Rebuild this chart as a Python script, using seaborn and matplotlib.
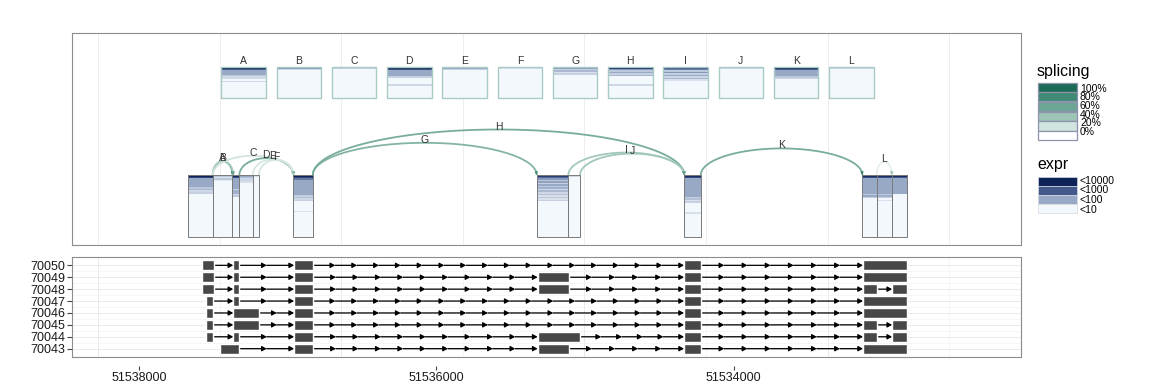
import numpy as np
import matplotlib
matplotlib.use('Agg')
import matplotlib.pyplot as plt
from matplotlib.colors import LinearSegmentedColormap
from matplotlib.patches import Rectangle
import seaborn as sns

sns.set_theme(style='white')
plt.rcParams['font.family'] = ['Liberation Sans', 'DejaVu Sans']

# --- data -----------------------------------------------------------------
# exonic parts of the gene (minus strand: start > end)
part_start = [51537668, 51537504, 51537372, 51537325, 51537235, 51536962,
              51535325, 51535112, 51534332, 51533134, 51533037, 51532936]
part_end = [51537504, 51537372, 51537325, 51537235, 51537193, 51536831,
            51535112, 51535033, 51534221, 51533037, 51532936, 51532835]
# per sample expression level (0 = <10 ... 3 = <10000), run length (n, level), top -> bottom
part_bands = [
    [(1, 3.0), (1, 2.4), (6, 1.0), (1, 0.6), (1, 0.8), (1, 0.4), (1, 0.5), (28, 0)],
    [(1, 0.6), (1, 0.3), (1, 0.6), (1, 0.2), (36, 0)],
    [(1, 2.8), (1, 2.2), (7, 1.0), (1, 0.5), (2, 0.9), (1, 0.4), (1, 0.6), (26, 0)],
    [(1, 1.0), (1, 0.7), (1, 0.4), (1, 0.5), (1, 0.3), (35, 0)],
    [(1, 0.3), (39, 0)],
    [(1, 3.0), (1, 2.3), (1, 1.6), (10, 1.0), (1, 0.5), (1, 0.7), (1, 0.4), (1, 0.5),
     (6, 0), (1, 0.3), (16, 0)],
    [(1, 2.5), (1, 1.8), (1, 1.2), (1, 0.6), (1, 1.1), (1, 0.5), (1, 1.0), (1, 0.6),
     (1, 0.9), (1, 0.4), (1, 0.8), (1, 0.4), (1, 0.7), (1, 0.3), (1, 0.6), (1, 0.3),
     (1, 0.5), (23, 0)],
    [(1, 0.4), (39, 0)],
    [(1, 2.8), (1, 2.2), (12, 1.0), (1, 0.5), (1, 0.7), (1, 0.3), (1, 0.5), (6, 0),
     (1, 0.3), (15, 0)],
    [(1, 2.8), (1, 2.2), (10, 1.0), (1, 0.6), (1, 1.0), (1, 0.5), (25, 0)],
    [(1, 2.8), (1, 2.2), (10, 1.0), (1, 0.6), (1, 0.9), (1, 0.5), (1, 0), (1, 0.3), (23, 0)],
    [(1, 2.8), (1, 2.0), (10, 1.0), (28, 0)],
]

# junctions
junc_names = ['A', 'B', 'C', 'D', 'E', 'F', 'G', 'H', 'I', 'J', 'K', 'L']
junc_from = [51537504, 51537504, 51537504, 51537325, 51537235, 51537193,
             51536831, 51536831, 51535112, 51535033, 51534221, 51533037]
junc_to = [51537372, 51537366, 51536962, 51536962, 51536962, 51536962,
           51535325, 51534332, 51534332, 51534332, 51533134, 51532936]
junc_psi = [0.5, 0.35, 0.2, 0.55, 0.18, 0.18, 0.5, 0.55, 0.38, 0.38, 0.55, 0.12]
junc_bands = [
    [(1, 3.0), (1, 2.0), (3, 1.0), (1, 0.6), (2, 0.4), (1, 0), (1, 0.4), (10, 0)],
    [(1, 1.2), (1, 0.4), (18, 0)],
    [(1, 0.5), (19, 0)],
    [(1, 3.0), (1, 2.2), (4, 1.0), (1, 0.5), (4, 0), (1, 0.4), (8, 0)],
    [(1, 1.0), (1, 0.5), (18, 0)],
    [(1, 0.3), (19, 0)],
    [(1, 1.2), (1, 0.5), (1, 0.8), (1, 0.3), (1, 0.5), (15, 0)],
    [(1, 3.0), (1, 1.2), (1, 0.6), (1, 1.0), (1, 0.5), (1, 0.8), (5, 0), (1, 0.4), (8, 0)],
    [(1, 2.2), (1, 1.5), (1, 0.6), (1, 1.2), (1, 0.5), (1, 1.0), (1, 0.4), (1, 0.8),
     (1, 0.3), (11, 0)],
    [(1, 0.4), (19, 0)],
    [(1, 3.0), (1, 2.0), (4, 1.0), (1, 0.6), (1, 0.4), (12, 0)],
    [(1, 0.4), (19, 0)],
]

# transcripts
tx_ids = ['70050', '70049', '70048', '70047', '70046', '70045', '70044', '70043']
tx_starts = [
    [51537578, 51537366, 51536957, 51534334, 51533130],
    [51537578, 51537366, 51536957, 51535319, 51534334, 51533130],
    [51537578, 51537366, 51536957, 51535319, 51534334, 51533130, 51532934],
    [51537549, 51537366, 51536957, 51534334, 51533130],
    [51537549, 51537366, 51536957, 51534334, 51533130],
    [51537549, 51537366, 51536957, 51534334, 51533130, 51532934],
    [51537549, 51537366, 51536957, 51535319, 51534334, 51533130, 51532934],
    [51537455, 51536957, 51535319, 51534334, 51533130],
]
tx_ends = [
    [51537493, 51537325, 51536827, 51534219, 51532833],
    [51537493, 51537325, 51536827, 51535110, 51534219, 51532833],
    [51537493, 51537325, 51536827, 51535110, 51534219, 51533034, 51532833],
    [51537504, 51537325, 51536827, 51534219, 51532833],
    [51537504, 51537191, 51536827, 51534219, 51532833],
    [51537504, 51537191, 51536827, 51534219, 51533034, 51532833],
    [51537504, 51537325, 51536827, 51535031, 51534219, 51533034, 51532833],
    [51537325, 51536827, 51535110, 51534219, 51532833],
]

x_ticks = [51538000, 51536000, 51534000]
grid_pos = [51538276, 51537458, 51536640, 51535822, 51535004, 51534186, 51533368, 51532550]

splice_labels = ['100%', '80%', '60%', '40%', '20%', '0%']
splice_colors = ['#1b6b56', '#3f8a74', '#6ba593', '#9dc4b7', '#d2e4de', '#ffffff']
expr_labels = ['<10000', '<1000', '<100', '<10']
expr_colors = ['#0e2358', '#44598b', '#98a9c6', '#f3f8fd']

# --- plot -----------------------------------------------------------------
expr_cmap = LinearSegmentedColormap.from_list('expr', expr_colors[::-1])
splice_cmap = LinearSegmentedColormap.from_list('splice', splice_colors[::-1])
xlim = (51538451, 51532067)

fig = plt.figure(figsize=(11.52, 3.84), dpi=100)
ax1 = fig.add_axes([72 / 1152, 1 - 245 / 384, 949 / 1152, 212 / 384])
ax2 = fig.add_axes([72 / 1152, 1 - 357 / 384, 949 / 1152, 100 / 384])


def stripe_box(ax, x0, x1, y0, y1, bands, edge, lw):
    levels = np.concatenate([np.full(n, v, dtype=float) for n, v in bands])
    img = expr_cmap(levels / 3.0)[:, None, :3]
    ax.imshow(img, extent=(x0, x1, y0, y1), origin='upper', aspect='auto',
              interpolation='nearest', zorder=2)
    ax.add_patch(Rectangle((min(x0, x1), y0), abs(x1 - x0), y1 - y0, fill=False,
                           ec=edge, lw=lw, zorder=3))


# exon parts
ex_lo, ex_hi = 8, 70
for s, e, b in zip(part_start, part_end, part_bands):
    stripe_box(ax1, s, e, ex_lo, ex_hi, b, '#7a7a7a', 0.7)

# junction boxes on top
jc = np.linspace(51537297, 51533208, len(junc_names))
jw = 299
for c, name, b in zip(jc, junc_names, junc_bands):
    stripe_box(ax1, c + jw / 2, c - jw / 2, 147, 178, b, '#a8cbc6', 1.0)
    ax1.text(c, 183.5, name, ha='center', va='center', fontsize=7.5, color='#333333')

# junction arcs
t = np.linspace(0, np.pi, 80)
for name, a, b, psi in zip(junc_names, junc_from, junc_to, junc_psi):
    mid, half = (a + b) / 2, (a - b) / 2
    h = 12 + 0.0134 * (a - b)
    x = mid + half * np.cos(t)
    y = ex_hi + h * np.sin(t)
    col = splice_cmap(psi)
    ax1.plot(x, y, color=col, lw=1.3, zorder=4, solid_capstyle='butt')
    ax1.annotate('', xy=(x[-1], y[-1]), xytext=(x[-3], y[-3]),
                 arrowprops=dict(arrowstyle='-|>,head_length=0.45,head_width=0.22',
                                 mutation_scale=4, color=splice_cmap(min(psi + 0.3, 1)),
                                 lw=0.5, shrinkA=0, shrinkB=0), zorder=4)
    ax1.text(mid, ex_hi + h + 3, name, ha='center', va='center', fontsize=7.5,
             color='#333333', zorder=5)

ax1.set_xlim(xlim)
ax1.set_ylim(0, 212)
ax1.set_xticks(grid_pos)
ax1.set_yticks([])
ax1.grid(axis='x', color='#ebebeb', lw=0.6)
ax1.tick_params(length=0, labelbottom=False, labelleft=False)

# transcripts
row_y = np.arange(len(tx_ids), 0, -1)
arrow_style = dict(arrowstyle='-|>,head_length=0.55,head_width=0.3', mutation_scale=5,
                   color='black', lw=0.9, shrinkA=0, shrinkB=0)
for y, starts, ends in zip(row_y, tx_starts, tx_ends):
    ax2.broken_barh([(e, s - e) for s, e in zip(starts, ends)], (y - 0.41, 0.82),
                    facecolors='#474747', zorder=4)
    for k in range(len(starts) - 1):
        a, b = ends[k], starts[k + 1]
        n = max(1, int(round((a - b) / 150)))
        pts = np.linspace(a, b, n + 1)
        for p, q in zip(pts[:-1], pts[1:]):
            ax2.annotate('', xy=(q, y), xytext=(p, y), arrowprops=arrow_style, zorder=3)

ax2.set_xlim(xlim)
ax2.set_ylim(0.3, len(tx_ids) + 0.7)
ax2.set_yticks(row_y, labels=tx_ids)
ax2.set_yticks(row_y[:-1] - 0.5, minor=True)
ax2.set_xticks(grid_pos[::2])
ax2.set_xticks(grid_pos[1::2], minor=True)
ax2.grid(which='major', color='#e6e6e6', lw=0.6)
ax2.grid(which='minor', color='#f3f3f3', lw=0.5)
ax2.tick_params(axis='x', which='both', length=0, labelbottom=False)
ax2.tick_params(axis='y', which='major', length=3.5, width=0.8, color='#444444',
                pad=1.5, labelsize=9, labelcolor='#1a1a1a', left=True)
ax2.tick_params(axis='y', which='minor', length=0)

sec = ax2.secondary_xaxis(-0.09)
sec.set_xticks(x_ticks, labels=[str(v) for v in x_ticks])
for sp in sec.spines.values():
    sp.set_visible(False)
sec.tick_params(length=3, width=0.8, color='#444444', pad=1.5, labelsize=9,
                labelcolor='#1a1a1a')

for ax in (ax1, ax2):
    for sp in ax.spines.values():
        sp.set_visible(True)
        sp.set_color('#8c8c8c')
        sp.set_linewidth(0.8)

# legends, drawn in pixel space at the right
lg = fig.add_axes([0, 0, 1, 1])
lg.set_xlim(0, 1152)
lg.set_ylim(384, 0)
lg.axis('off')
lg.patch.set_visible(False)

lg.text(1037, 76, 'splicing', fontsize=11.5, va='baseline', ha='left', color='black')
for i, (lab, col) in enumerate(zip(splice_labels, splice_colors)):
    lg.add_patch(Rectangle((1038, 82.5 + 9.7 * i), 39, 9.2, fc=col, ec='#8e92ab', lw=0.9))
    lg.text(1080, 88.5 + 8.7 * i, lab, fontsize=7.5, va='center', ha='left', color='black')

lg.text(1037, 169, 'expr', fontsize=11.5, va='baseline', ha='left', color='black')
for i, (lab, col) in enumerate(zip(expr_labels, expr_colors)):
    lg.add_patch(Rectangle((1038, 176.7 + 9.2 * i), 39, 9.2, fc=col, ec='#d5d9e0', lw=0.5))
    lg.text(1080, 180.5 + 9.7 * i, lab, fontsize=7.5, va='center', ha='left', color='black')

fig.savefig('out.png', dpi=100)
